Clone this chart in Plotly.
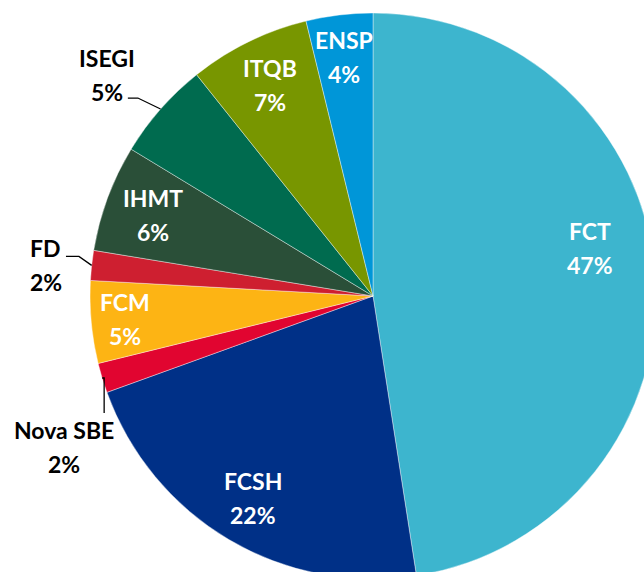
import math
import plotly.graph_objects as go

# ---- data ----
labels = ["FCT", "FCSH", "Nova SBE", "FCM", "FD", "IHMT", "ISEGI", "ITQB", "ENSP"]
shares = [47.5, 21.9, 1.7, 4.7, 1.7, 6.1, 5.6, 6.9, 3.8]
pct_labels = ["47%", "22%", "2%", "5%", "2%", "6%", "5%", "7%", "4%"]

# ---- styles ----
colors = ["#3DB5CE", "#003087", "#E10530", "#FDB414", "#CE1F30",
          "#2A4F38", "#006B4F", "#789600", "#0096D8"]

W, H = 660, 580
left, top, right, bottom = 90, 13, 656, 579
cx, cy = (left + right) / 2, (top + bottom) / 2
R = (right - left) / 2

FONT = "Lato"
FSIZE = 23
LINE_GAP = 17

# outside labels: leader line offsets (from slice edge) and label centre offset
outside = {
    "ISEGI": dict(line=[(-22.7, -11), (-32.7, -11)], text=(-53.7, -34)),
    "FD": dict(line=[(-12.7, -9), (-25.7, -9)], text=(-45.7, 0)),
    "Nova SBE": dict(line=[(2, 0), (2, 35)], text=(-38, 69)),
}
inside_r = {"FCT": 0.785, "FCM": 0.88, "ENSP": 0.85}
inside_shift = {"FCT": -8.0}

fig = go.Figure(go.Pie(
    labels=labels, values=shares, sort=False, direction="clockwise", rotation=0,
    marker=dict(colors=colors, line=dict(color="white", width=0.4)),
    textinfo="none", hoverinfo="label+percent",
    domain=dict(x=[left / W, right / W], y=[1 - bottom / H, 1 - top / H]),
    showlegend=False,
))

def px2paper(px, py):
    return px / W, 1 - py / H

annotations, shapes = [], []
total = sum(shares)
cum = 0.0
for name, v, pct in zip(labels, shares, pct_labels):
    a0 = cum / total * 360
    cum += v
    a1 = cum / total * 360
    mid = (a0 + a1) / 2
    if name in outside:
        th = math.radians(mid)
        ex, ey = cx + R * math.sin(th), cy - R * math.cos(th)
        st = outside[name]
        pts = [(ex, ey)] + [(ex + dx, ey + dy) for dx, dy in st["line"]]
        path = "M " + " L ".join(f"{px2paper(x, y)[0]:.5f},{px2paper(x, y)[1]:.5f}" for x, y in pts)
        shapes.append(dict(type="path", xref="paper", yref="paper", path=path,
                           line=dict(color="black", width=1.3)))
        tx, ty = ex + st["text"][0], ey + st["text"][1]
        tcolor = "black"
    else:
        th = math.radians(mid + inside_shift.get(name, 0.0))
        rr = R * inside_r.get(name, 0.83)
        tx, ty = cx + rr * math.sin(th), cy - rr * math.cos(th)
        tcolor = "white"
    for txt, dy in ((name, -LINE_GAP), (pct, LINE_GAP)):
        x, y = px2paper(tx, ty + dy)
        annotations.append(dict(x=x, y=y, xref="paper", yref="paper", text=txt,
                                showarrow=False, xanchor="center", yanchor="middle",
                                font=dict(family=FONT, size=FSIZE, color=tcolor, weight="bold")))

fig.update_layout(
    width=W, height=H, autosize=False,
    margin=dict(l=0, r=0, t=0, b=0),
    paper_bgcolor="white", plot_bgcolor="white",
    annotations=annotations, shapes=shapes,
)

fig.write_html("out.html", config={"displayModeBar": False},
               post_script="document.body.style.margin='0';document.body.style.overflow='hidden';")
